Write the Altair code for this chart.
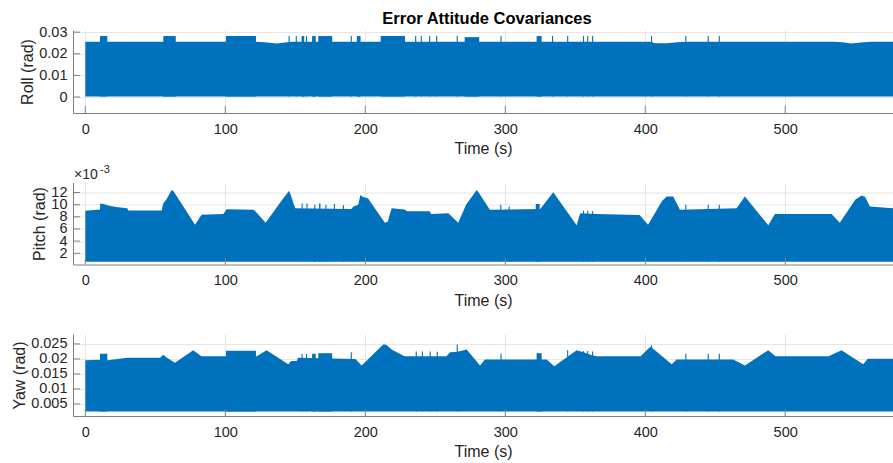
import altair as alt
import pandas as pd

# ---- shared time axis -------------------------------------------------------
T_MIN, T_MAX = -8.8, 577.0
T_TICKS = [0, 100, 200, 300, 400, 500]

# ---- Roll covariance: upper envelope of the oscillation + step blocks ---------
roll_t = [0, 122, 128, 137, 144, 148, 404, 407, 415, 425, 432, 535, 541, 547, 554, 561, 577]
roll_up = [0.0256, 0.0256, 0.0253, 0.0247, 0.0253, 0.0256, 0.0256, 0.0249, 0.0249,
           0.0254, 0.0256, 0.0256, 0.0253, 0.0248, 0.0252, 0.0256, 0.0256]
roll_floor = 0.0002
roll_blk_t0 = [10.5, 55.7, 100.5, 145.2, 150.3, 154.5, 157.6, 162.0, 166.4, 189.6, 194.0,
               211.0, 235.6, 239.6, 245.6, 250.6, 265.3, 271.0, 296.6, 322.4, 333.4,
               344.2, 355.5, 358.5, 362.0, 404.1, 428.6, 444.6, 452.5]
roll_blk_t1 = [15.7, 64.6, 121.9, 146.0, 151.1, 156.4, 158.4, 164.6, 176.4, 190.4, 196.6,
               228.4, 236.4, 240.4, 246.4, 251.4, 266.1, 281.4, 297.4, 326.0, 334.2,
               345.0, 356.3, 359.3, 362.8, 404.9, 429.4, 445.4, 453.3]
roll_blk_top = [0.0282, 0.0282, 0.0282, 0.0282, 0.0282, 0.0282, 0.0282, 0.0282, 0.0282,
                0.0282, 0.0282, 0.0282, 0.0282, 0.0282, 0.0282, 0.0282, 0.0282, 0.0277,
                0.0282, 0.0282, 0.0282, 0.0282, 0.0282, 0.0282, 0.0282, 0.0282, 0.0282,
                0.0282, 0.0282]

# ---- Pitch covariance -----------------------------------------------------------
pitch_t = [0, 10.5, 10.6, 13, 17, 22, 30, 30.8, 54.5, 55.7, 58, 61.7, 63, 65, 78.4, 83,
           98.6, 101, 120, 121.2, 128.8, 140, 144, 145.5, 146.8, 148.6, 150, 190, 191.5,
           195, 196.5, 198, 202, 214, 216, 218.8, 228, 230, 246, 247, 259.3, 266.4, 272,
           279.6, 281, 289, 325, 334.3, 351, 353.5, 365, 396, 402, 412, 415.3, 420,
           424.8, 465.3, 471.2, 487.9, 492.6, 533.1, 539, 550, 554.6, 557, 560.5, 577]
pitch_up = [0.00900, 0.00920, 0.01020, 0.01010, 0.00980, 0.00960, 0.00940, 0.00905,
            0.00905, 0.01020, 0.01090, 0.01240, 0.01220, 0.01150, 0.00670, 0.00835,
            0.00845, 0.00925, 0.00915, 0.00900, 0.00700, 0.01060, 0.01180, 0.01230,
            0.01160, 0.01025, 0.00940, 0.00930, 0.00970, 0.01000, 0.01160, 0.01130,
            0.01100, 0.00700, 0.00720, 0.00940, 0.00920, 0.00890, 0.00890, 0.00845,
            0.00860, 0.00700, 0.01000, 0.01240, 0.01200, 0.00915, 0.00930, 0.01205,
            0.00660, 0.00860, 0.00845, 0.00830, 0.00670, 0.01060, 0.01135, 0.01135,
            0.00915, 0.00940, 0.01135, 0.00660, 0.00845, 0.00845, 0.00700, 0.01080,
            0.01150, 0.01130, 0.00970, 0.00940]
pitch_floor = 0.0006
pitch_blk_t0 = [154.5, 158.0, 163.5, 167.0, 171.5, 177.5, 184.0, 296.4, 302.4, 321.8,
                355.5, 358.5, 362.0, 428.6, 444.6, 452.5]
pitch_blk_t1 = [155.3, 158.8, 164.3, 168.0, 172.3, 178.3, 184.8, 297.2, 303.2, 324.6,
                356.3, 359.3, 362.8, 429.4, 445.4, 453.3]
pitch_blk_top = [0.0102, 0.0102, 0.0100, 0.0102, 0.0100, 0.0101, 0.0099, 0.0100, 0.0097,
                 0.0101, 0.0090, 0.0090, 0.0089, 0.0100, 0.0100, 0.0100]

# ---- Yaw covariance -------------------------------------------------------------
yaw_t = [0, 10.5, 16, 30, 53.4, 55.7, 58, 64, 77.1, 83, 122.4, 129.5, 145, 147, 151, 152,
         193, 197.4, 212.8, 215, 218.8, 228, 258, 260.5, 266, 272.4, 282, 285.5, 329.6,
         335, 351, 356, 362, 365, 396.7, 403.4, 405, 418.9, 422.4, 462.9, 471.2, 487.9,
         493, 531, 540.2, 555.7, 559, 577]
yaw_up = [0.0196, 0.0197, 0.0196, 0.0204, 0.0204, 0.0214, 0.0205, 0.0187, 0.0229, 0.0209,
          0.0209, 0.0229, 0.0182, 0.0193, 0.0193, 0.0204, 0.0200, 0.0178, 0.0248, 0.0247,
          0.0231, 0.0209, 0.0209, 0.0222, 0.0224, 0.0231, 0.0178, 0.0198, 0.0198, 0.0176,
          0.0229, 0.0222, 0.0212, 0.0209, 0.0209, 0.0240, 0.0236, 0.0182, 0.0198, 0.0198,
          0.0178, 0.0229, 0.0209, 0.0209, 0.0229, 0.0182, 0.0201, 0.0201]
yaw_floor = 0.0025
yaw_blk_t0 = [10.5, 100.5, 154.5, 157.6, 162.0, 166.4, 189.6, 236.0, 240.4, 246.0, 251.0,
              265.3, 296.6, 322.4, 344.2, 355.5, 358.5, 362.0, 404.1, 428.6, 444.6, 452.5]
yaw_blk_t1 = [15.7, 121.9, 155.3, 158.4, 164.6, 176.4, 190.4, 236.8, 241.2, 246.8, 251.8,
              266.1, 297.4, 326.0, 345.0, 356.3, 359.3, 362.8, 404.9, 429.4, 445.4, 453.3]
yaw_blk_top = [0.0217, 0.0227, 0.0217, 0.0217, 0.0217, 0.0219, 0.0222, 0.0225, 0.0225,
               0.0225, 0.0224, 0.0248, 0.0217, 0.0219, 0.0229, 0.0226, 0.0226, 0.0225,
               0.0246, 0.0217, 0.0217, 0.0217]

# ---- styling ------------------------------------------------------------------------
BLUE = "#0072BD"
AXIS_GREY = "#808080"
TEXT = "#262626"
FONT = "Liberation Sans"
W = 820


def panel(t, up, floor, b0, b1, btop, ydomain, yticks, ytitle, height,
          label_expr="format(datum.value, '~g')"):
    env = pd.DataFrame({"t": t, "v": up, "lo": [floor] * len(t)})
    blk = pd.DataFrame({"t0": b0, "t1": b1, "top": btop, "lo": [floor] * len(b0)})

    xs = alt.Scale(domain=[T_MIN, T_MAX], nice=False, zero=False)
    ys = alt.Scale(domain=ydomain, nice=False, zero=False)
    xax = alt.Axis(values=T_TICKS, title="Time (s)", format="d", labelOverlap=False)
    yax = alt.Axis(values=yticks, title=ytitle, labelExpr=label_expr, labelOverlap=False)

    area = alt.Chart(env).mark_area(color=BLUE, opacity=1, interpolate="linear").encode(
        x=alt.X("t:Q", scale=xs, axis=xax),
        y=alt.Y("v:Q", scale=ys, axis=yax),
        y2="lo:Q",
    )
    rects = alt.Chart(blk).mark_rect(color=BLUE, opacity=1).encode(
        x=alt.X("t0:Q", axis=xax),
        x2="t1:Q",
        y=alt.Y("top:Q", axis=yax),
        y2="lo:Q",
    )
    # inward-pointing tick marks
    xt = alt.Chart(pd.DataFrame({"t": T_TICKS})).mark_rule(color=AXIS_GREY, strokeWidth=1).encode(
        x=alt.X("t:Q", axis=xax), y=alt.value(height), y2=alt.value(height - 7)
    )
    yt = alt.Chart(pd.DataFrame({"v": yticks})).mark_rule(color=AXIS_GREY, strokeWidth=1).encode(
        y=alt.Y("v:Q", axis=yax), x=alt.value(0), x2=alt.value(7)
    )
    return [area, rects, xt, yt]


H1, H2, H3 = 83, 82, 82

# figure title, drawn just above the first panel
main_title = alt.Chart(pd.DataFrame({"s": ["Error Attitude Covariances"]})).mark_text(
    font=FONT, fontSize=16.5, fontWeight="bold", color="#000000", align="center",
    baseline="alphabetic"
).encode(text="s:N", x=alt.value(W / 2 + 4), y=alt.value(-6))

p1 = alt.layer(*panel(roll_t, roll_up, roll_floor, roll_blk_t0, roll_blk_t1, roll_blk_top,
                      [-0.0074, 0.031], [0, 0.01, 0.02, 0.03], "Roll (rad)", H1),
               main_title).properties(width=W, height=H1)

pitch_layers = panel(pitch_t, pitch_up, pitch_floor, pitch_blk_t0, pitch_blk_t1,
                     pitch_blk_top, [0.00015, 0.01364],
                     [0.002, 0.004, 0.006, 0.008, 0.010, 0.012], "Pitch (rad)", H2,
                     label_expr="format(round(datum.value * 1000), 'd')")
exp_base = alt.Chart(pd.DataFrame({"s": ["\u00d710"]})).mark_text(
    font=FONT, fontSize=14, color=TEXT, align="left", baseline="alphabetic"
).encode(text="s:N", x=alt.value(1), y=alt.value(-4))
exp_pow = alt.Chart(pd.DataFrame({"s": ["-3"]})).mark_text(
    font=FONT, fontSize=11, color=TEXT, align="left", baseline="alphabetic"
).encode(text="s:N", x=alt.value(27), y=alt.value(-10))
p2 = alt.layer(*pitch_layers, exp_base, exp_pow).properties(width=W, height=H2)

p3 = alt.layer(*panel(yaw_t, yaw_up, yaw_floor, yaw_blk_t0, yaw_blk_t1, yaw_blk_top,
                      [0.001, 0.0283], [0.005, 0.01, 0.015, 0.02, 0.025], "Yaw (rad)",
                      H3)).properties(width=W, height=H3)

chart = alt.vconcat(p1, p2, p3, spacing=69.5, bounds="flush").properties(
    padding={"left": 11, "top": 11, "right": 0, "bottom": 0},
    background="white",
).configure_view(stroke=None).configure_axis(
    labelFont=FONT, labelFontSize=14.5, labelColor=TEXT, labelOverlap=False,
    titleFont=FONT, titleFontSize=16, titleFontWeight="normal", titleColor=TEXT,
    domainColor=AXIS_GREY, domainWidth=1, gridColor="#e6e6e6", gridWidth=1,
    ticks=False, tickSize=0,
).configure_axisX(labelPadding=9, titlePadding=5).configure_axisY(
    labelPadding=6, titlePadding=3
)

chart.save("out.html", embed_options={"renderer": "svg", "actions": False})
